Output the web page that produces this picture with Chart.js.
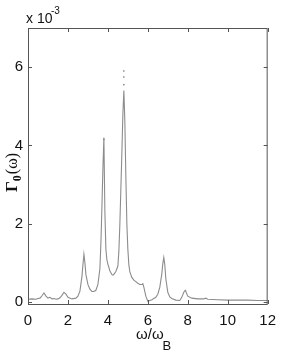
<!DOCTYPE html>
<html>
<head>
<meta charset="utf-8">
<script src="https://cdn.jsdelivr.net/npm/chart.js@4/dist/chart.umd.min.js"></script>
<style>
  html, body { margin: 0; padding: 0; background: #fff; }
  #wrap { width: 284px; height: 354px; position: relative; }
</style>
</head>
<body>
<div id="wrap"><canvas id="myChart" width="284" height="354"></canvas></div>
<script>
const ctx = document.getElementById("myChart").getContext("2d");

// omega / omega_B
const omega = [0.0, 0.2, 0.4, 0.5, 0.6, 0.7, 0.8, 0.9, 1.0, 1.1, 1.2, 1.3, 1.4, 1.5, 1.6, 1.7, 1.8, 1.9, 2.0, 2.2,
	2.4, 2.5, 2.6, 2.7, 2.75, 2.8, 2.85, 2.9, 3.0, 3.1, 3.2, 3.3, 3.4, 3.5, 3.6, 3.65, 3.7, 3.75, 3.8, 3.85,
	3.9, 3.95, 4.0, 4.1, 4.2, 4.25, 4.3, 4.4, 4.5, 4.55, 4.6, 4.65, 4.7, 4.75, 4.8, 4.85, 4.9, 4.95, 5.0, 5.05,
	5.1, 5.2, 5.3, 5.4, 5.5, 5.6, 5.7, 5.75, 5.8, 5.9, 6.0, 6.1, 6.2, 6.3, 6.4, 6.5, 6.6, 6.7, 6.75, 6.8,
	6.85, 6.9, 7.0, 7.1, 7.2, 7.4, 7.6, 7.7, 7.8, 7.87, 7.9, 8.0, 8.2, 8.5, 8.8, 8.9, 9.0, 9.5, 10.0, 10.5,
	11.0, 11.5, 12.0];
// Gamma_0(omega), in units of 1e-3
const gamma0 = [0.07, 0.08, 0.07, 0.09, 0.10, 0.16, 0.23, 0.15, 0.10, 0.12, 0.08, 0.09, 0.07, 0.08, 0.11, 0.17, 0.25, 0.20, 0.12, 0.08,
	0.10, 0.15, 0.28, 0.65, 0.95, 1.22, 1.00, 0.70, 0.45, 0.33, 0.27, 0.27, 0.30, 0.45, 0.85, 1.50, 2.40, 3.40, 4.20, 2.30,
	1.35, 1.08, 0.97, 0.80, 0.70, 0.69, 0.71, 0.78, 0.92, 1.30, 2.00, 2.90, 3.80, 4.80, 5.40, 4.60, 3.20, 2.00, 1.35, 0.95,
	0.77, 0.63, 0.56, 0.52, 0.48, 0.45, 0.45, 0.47, 0.38, 0.15, 0.02, 0.04, 0.06, 0.09, 0.12, 0.20, 0.38, 0.72, 0.98, 1.14,
	0.95, 0.60, 0.25, 0.13, 0.09, 0.05, 0.04, 0.12, 0.25, 0.30, 0.27, 0.15, 0.10, 0.08, 0.08, 0.10, 0.07, 0.06, 0.05, 0.05,
	0.05, 0.04, 0.04];
// stray dots above the two big peaks
const dotX = [4.8, 4.8, 4.8, 3.8];
const dotY = [5.9, 5.75, 5.55, 4.15];

const xTicks = [0, 2, 4, 6, 8, 10, 12];
const yTicks = [0, 2, 4, 6];

const FONT = "'Liberation Sans', Arial, sans-serif";

const lineData = omega.map((x, i) => ({ x: x, y: gamma0[i] }));
const dotData = dotX.map((x, i) => ({ x: x, y: dotY[i] }));

// matlab style frame: inward ticks on all four sides, labels
const framePlugin = {
	id: "frame",
	afterDraw(chart) {
		const c = chart.ctx;
		const a = chart.chartArea;
		const xs = chart.scales.x, ys = chart.scales.y;
		c.save();
		c.strokeStyle = "#555";
		c.lineWidth = 1;
		c.strokeRect(a.left + 0.5, a.top + 0.5, a.right - a.left - 1, a.bottom - a.top);
		c.beginPath();
		for (const t of xTicks) {
			const px = Math.round(xs.getPixelForValue(t)) + 0.5;
			c.moveTo(px, a.bottom); c.lineTo(px, a.bottom - 4);
			c.moveTo(px, a.top); c.lineTo(px, a.top + 4);
		}
		for (const t of yTicks) {
			const py = Math.round(ys.getPixelForValue(t)) + 0.5;
			c.moveTo(a.left, py); c.lineTo(a.left + 4, py);
			c.moveTo(a.right, py); c.lineTo(a.right - 4, py);
		}
		c.stroke();

		c.fillStyle = "#111";
		// exponent
		c.font = "14px " + FONT;
		c.textBaseline = "alphabetic";
		c.textAlign = "left";
		c.fillText("x 10", 26, 23);
		c.font = "10px " + FONT;
		c.fillText("-3", 51, 14);

		// x label
		c.font = "15px " + FONT;
		c.fillText("\u03c9/\u03c9", 136, 339);
		const w = c.measureText("\u03c9/\u03c9").width;
		c.font = "13px " + FONT;
		c.fillText("B", 135 + w, 350);

		// y label
		c.translate(17, 168);
		c.rotate(-Math.PI / 2);
		c.font = "bold 17px 'Liberation Serif', 'DejaVu Serif', serif";
		c.textAlign = "left";
		c.fillText("\u0393", -24, 0);
		const gw = c.measureText("\u0393").width;
		c.font = "bold 12px 'Liberation Serif', serif";
		c.fillText("0", -24 + gw, 4);
		c.font = "16px 'Liberation Serif', 'DejaVu Serif', serif";
		c.fillText("(\u03c9)", -24 + gw + 7, 0);
		c.restore();
	}
};

const chart = new Chart(ctx, {
	type: "scatter",
	data: {
		datasets: [{
			type: "line",
			data: lineData,
			borderColor: "#8c8c8c",
			borderWidth: 1.1,
			pointRadius: 0,
			tension: 0,
			fill: false
		}, {
			data: dotData,
			pointRadius: 0.8,
			pointBackgroundColor: "#666",
			pointBorderWidth: 0
		}]
	},
	options: {
		responsive: false,
		animation: false,
		events: [],
		layout: { padding: { top: 28, right: 10, left: 0, bottom: 0 } },
		plugins: { legend: { display: false }, tooltip: { enabled: false } },
		scales: {
			x: {
				type: "linear",
				min: 0,
				max: 12,
				grid: { display: false, drawTicks: false },
				border: { display: false },
				afterBuildTicks: (s) => { s.ticks = xTicks.map(v => ({ value: v })); },
				afterFit: (s) => { s.height = 50; },
				ticks: {
					padding: 8,
					color: "#111",
					maxRotation: 0,
					font: { family: FONT, size: 15 }
				}
			},
			y: {
				type: "linear",
				min: -0.05,
				max: 7,
				grid: { display: false, drawTicks: false },
				border: { display: false },
				afterBuildTicks: (s) => { s.ticks = yTicks.map(v => ({ value: v })); },
				afterFit: (s) => { s.width = 28; },
				ticks: {
					padding: 5,
					color: "#111",
					font: { family: FONT, size: 15 }
				}
			}
		}
	},
	plugins: [framePlugin]
});
</script>
</body>
</html>
